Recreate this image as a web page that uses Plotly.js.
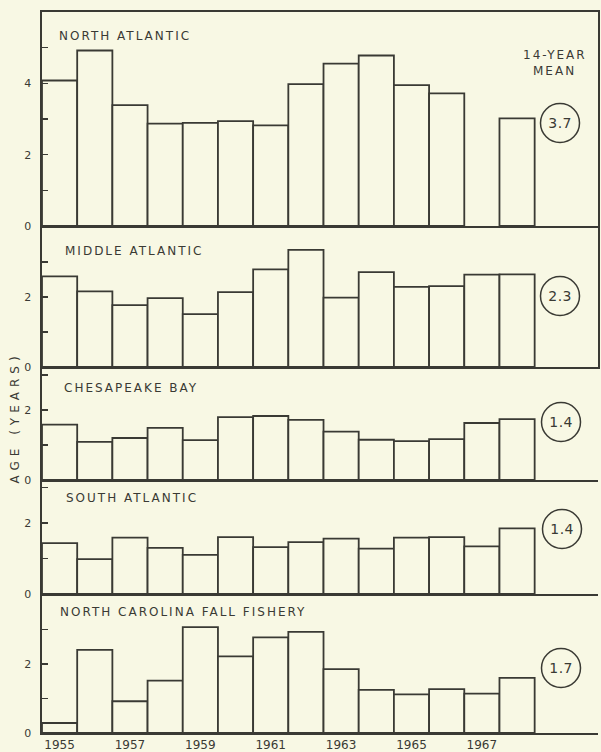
<!DOCTYPE html>
<html>
<head>
<meta charset="utf-8">
<script src="https://cdn.plot.ly/plotly-3.0.1.min.js"></script>
<style>
  html, body { margin: 0; padding: 0; background: #f8f8e4; }
  #chart { width: 601px; height: 752px; }
  .annotation-text { letter-spacing: 2px; }
  .annotation[data-index="7"] text { letter-spacing: 5px; }
  .annotation[data-index="8"] text, .annotation[data-index="9"] text,
  .annotation[data-index="10"] text, .annotation[data-index="11"] text,
  .annotation[data-index="12"] text { letter-spacing: 0.5px; }
  .xtick text { letter-spacing: 1.5px; }
</style>
</head>
<body>
<div id="chart"></div>
<script>
// ---- data ----
const years = [1955,1956,1957,1958,1959,1960,1961,1962,1963,1964,1965,1966,1967,1968];
const regions = ["NORTH ATLANTIC", "MIDDLE ATLANTIC", "CHESAPEAKE BAY", "SOUTH ATLANTIC", "NORTH CAROLINA FALL FISHERY"];
const northAtlantic = [4.08, 4.92, 3.39, 2.87, 2.89, 2.94, 2.82, 3.98, 4.55, 4.78, 3.95, 3.72, null, 3.02];
const middleAtlantic = [2.59, 2.16, 1.77, 1.97, 1.51, 2.14, 2.79, 3.35, 1.98, 2.71, 2.29, 2.31, 2.64, 2.65];
const chesapeakeBay = [1.58, 1.09, 1.20, 1.49, 1.14, 1.80, 1.83, 1.72, 1.38, 1.15, 1.11, 1.17, 1.63, 1.74];
const southAtlantic = [1.43, 0.98, 1.59, 1.30, 1.10, 1.60, 1.32, 1.46, 1.56, 1.28, 1.59, 1.60, 1.34, 1.85];
const ncFallFishery = [0.29, 2.41, 0.92, 1.52, 3.07, 2.22, 2.77, 2.93, 1.85, 1.25, 1.12, 1.27, 1.14, 1.60];
const means = ["3.7", "2.3", "1.4", "1.4", "1.7"];
const xTickVals = [1955, 1957, 1959, 1961, 1963, 1965, 1967];
const xTickText = ["1955", "1957", "1959", "1961", "1963", "1965", "1967"];
const yTitle = "AGE (YEARS)";

// ---- layout helpers ----
const W = 601, H = 752, ML = 42, MR = 3, MT = 12, MB = 19;
const PW = W - ML - MR, PH = H - MT - MB;
const px = x => (x - ML) / PW;
const py = y => (H - MB - y) / PH;

const INK = "#3a3a34";
const BG = "#f8f8e4";
const FONT = "DejaVu Sans, Liberation Sans, sans-serif";

const series = [northAtlantic, middleAtlantic, chesapeakeBay, southAtlantic, ncFallFishery];
const panelPx = [[12, 226], [226, 367], [367, 480], [480, 594], [594, 733]];
const yRanges = [[0, 6.0], [0, 4.03], [0, 3.23], [0, 3.21], [0, 4.03]];
const yTickVals = [[0,1,2,3,4,5], [0,1,2,3,4], [0,1,2,3], [0,1,2,3], [0,1,2,3,4]];
const yTickText = [["0","","2","","4",""], ["0","","2","",""], ["0","","2",""], ["0","","2",""], ["0","","2","",""]];
const titlePos = [[57, 36], [63, 251], [62, 388], [64, 498], [58, 612]];
const circlePos = [[560, 123], [560, 296], [561, 422], [562, 529], [561, 668]];
const R_CIRC = 19.5;

const traces = series.map((vals, i) => ({
  type: "bar",
  x: years,
  y: vals,
  width: 1,
  xaxis: i === 0 ? "x" : "x" + (i + 1),
  yaxis: i === 0 ? "y" : "y" + (i + 1),
  marker: { color: BG, line: { color: INK, width: 1.8 } },
  hoverinfo: "skip",
  showlegend: false
}));

const layout = {
  width: W, height: H,
  margin: { l: ML, r: MR, t: MT, b: MB, pad: 0 },
  paper_bgcolor: BG, plot_bgcolor: BG,
  font: { family: FONT, color: INK, size: 10 },
  showlegend: false,
  annotations: [],
  shapes: []
};

series.forEach((_, i) => {
  const xa = i === 0 ? "xaxis" : "xaxis" + (i + 1);
  const ya = i === 0 ? "yaxis" : "yaxis" + (i + 1);
  const [top, bot] = panelPx[i];
  layout[xa] = {
    range: [1954.5, 1970.3],
    anchor: i === 0 ? "y" : "y" + (i + 1),
    showline: true, linecolor: INK, linewidth: 1.6,
    mirror: i === 0,
    showgrid: false, zeroline: false,
    ticks: "",
    showticklabels: i === 4,
    tickvals: xTickVals, ticktext: xTickText,
    tickfont: { size: 12, family: FONT, color: INK },
    ticklabelstandoff: 0,
    fixedrange: true
  };
  layout[ya] = {
    domain: [py(bot), py(top)],
    range: yRanges[i],
    anchor: i === 0 ? "x" : "x" + (i + 1),
    showline: true, linecolor: INK, linewidth: 1.6,
    mirror: i <= 1,
    showgrid: false, zeroline: false,
    ticks: "inside", ticklen: 6, tickwidth: 1.3, tickcolor: INK,
    tickvals: yTickVals[i], ticktext: yTickText[i],
    tickfont: { size: 11, family: FONT, color: INK },
    ticklabelstandoff: 7,
    fixedrange: true
  };
  layout.annotations.push({
    xref: "paper", yref: "paper", x: px(titlePos[i][0]), y: py(titlePos[i][1]),
    xanchor: "left", yanchor: "middle", showarrow: false,
    text: regions[i], font: { size: 12, family: FONT, color: INK }
  });
});

// 14-YEAR MEAN header (index 5, 6)
layout.annotations.push({
  xref: "paper", yref: "paper", x: px(555), y: py(55),
  xanchor: "center", yanchor: "middle", showarrow: false,
  text: "14-YEAR", font: { size: 12, family: FONT, color: INK }
});
layout.annotations.push({
  xref: "paper", yref: "paper", x: px(554), y: py(71),
  xanchor: "center", yanchor: "middle", showarrow: false,
  text: "MEAN", font: { size: 12, family: FONT, color: INK }
});
// y title (index 7)
layout.annotations.push({
  xref: "paper", yref: "paper", x: px(15), y: py(418),
  xanchor: "center", yanchor: "middle", showarrow: false, textangle: -90,
  text: yTitle, font: { size: 12, family: FONT, color: INK }
});
// means (index 8..12)
means.forEach((m, i) => {
  const [cx, cy] = circlePos[i];
  layout.annotations.push({
    xref: "paper", yref: "paper", x: px(cx), y: py(cy),
    xanchor: "center", yanchor: "middle", showarrow: false,
    text: m, font: { size: 14, family: FONT, color: INK }
  });
  layout.shapes.push({
    type: "circle", xref: "paper", yref: "paper",
    x0: px(cx - R_CIRC), x1: px(cx + R_CIRC),
    y0: py(cy + R_CIRC), y1: py(cy - R_CIRC),
    line: { color: INK, width: 1.5 }, fillcolor: "rgba(0,0,0,0)"
  });
});

Plotly.newPlot("chart", traces, layout, { displayModeBar: false, staticPlot: true });
</script>
</body>
</html>
